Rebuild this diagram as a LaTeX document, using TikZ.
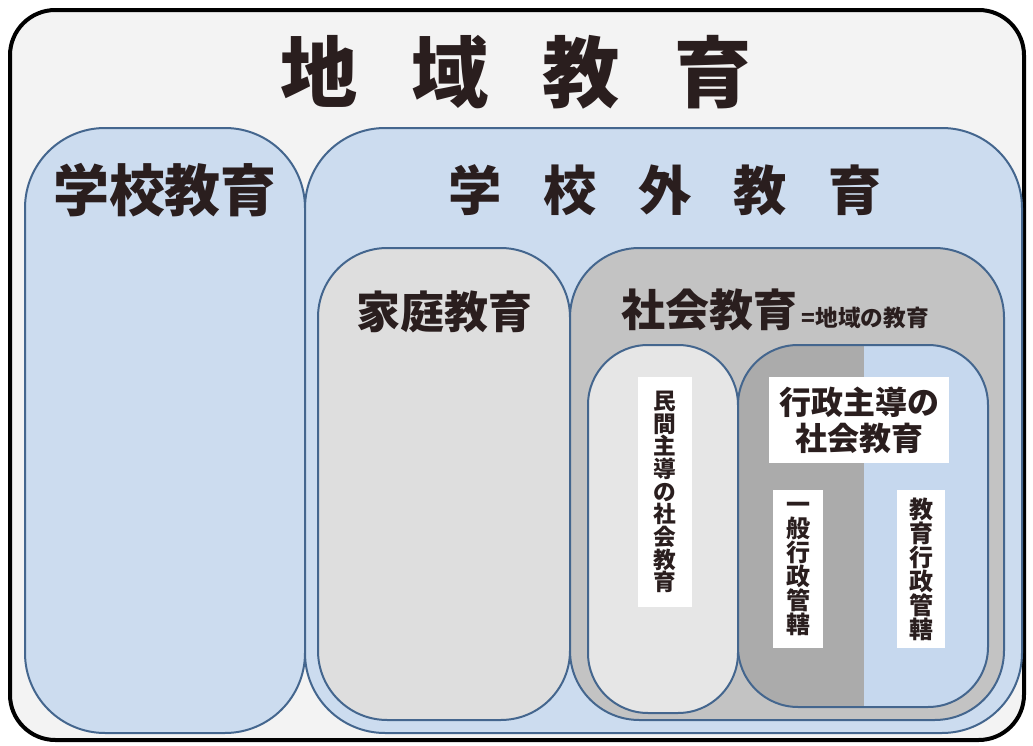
\documentclass[tikz,border=0pt]{standalone}
\usepackage{fontspec}
\newfontfamily\cjk{Noto Sans CJK JP}
\definecolor{framefill}{HTML}{F3F3F3}
\definecolor{schoolblue}{HTML}{CCDCEF}
\definecolor{homegrey}{HTML}{DEDEDE}
\definecolor{socgrey}{HTML}{C3C3C3}
\definecolor{privfill}{HTML}{E6E6E6}
\definecolor{govdark}{HTML}{ABABAB}
\definecolor{govblue}{HTML}{C6D8EE}
\definecolor{boxline}{HTML}{44668E}
\definecolor{ink}{HTML}{2A1E1E}
\tikzset{
  region/.style={draw=boxline, line width=1.5pt},
  lbl/.style={font=\cjk\bfseries, text=ink, inner sep=0pt},
  whitebox/.style={fill=white, inner sep=0pt},
}
\begin{document}
\begin{tikzpicture}[x=0.75pt,y=-0.75pt]
\useasboundingbox (0,0) rectangle (1033,746);
% outer frame
\draw[fill=framefill, draw=black, line width=3pt, rounded corners=34pt] (10,10) rectangle (1024,740);
\node[lbl, font=\cjk\bfseries\fontsize{58}{60}\selectfont] (title) at (516,72) {地\hspace{0.7em}域\hspace{0.7em}教\hspace{0.7em}育};
% school education
\draw[region, fill=schoolblue, rounded corners=60pt] (25,128) rectangle (305,733);
\node[lbl, font=\cjk\bfseries\fontsize{42}{44}\selectfont] (school) at (165,190) {学校教育};
% out-of-school education
\draw[region, fill=schoolblue, rounded corners=60pt] (305,128) rectangle (1022,733);
\node[lbl, font=\cjk\bfseries\fontsize{40}{42}\selectfont] (outschool) at (665,190) {学\hspace{0.78em}校\hspace{0.78em}外\hspace{0.78em}教\hspace{0.78em}育};
% home education
\draw[region, fill=homegrey, rounded corners=52pt] (318,248) rectangle (570,720);
\node[lbl, font=\cjk\bfseries\fontsize{33}{35}\selectfont] (home) at (444,312) {家庭教育};
% social education
\draw[region, fill=socgrey, rounded corners=52pt] (570,248) rectangle (1004,720);
\node[lbl, font=\cjk\bfseries\fontsize{33}{35}\selectfont, anchor=base west] (social) at (621,326) {社会教育};
\node[lbl, font=\cjk\bfseries\fontsize{17}{19}\selectfont, anchor=base west] (socialeq) at (social.base east) {\,=地域の教育};
% private-led
\draw[region, fill=privfill, rounded corners=45pt] (588,345) rectangle (738,713);
\node[whitebox, minimum width=40pt, minimum height=173pt] (privbox) at (665,492) {};
\node[lbl, font=\cjk\bfseries\fontsize{17}{17}\selectfont, align=center] (priv) at (privbox) {民\\間\\主\\導\\の\\社\\会\\教\\育};
% government-led
\begin{scope}
  \clip[rounded corners=45pt] (738,345) rectangle (988,707);
  \fill[govdark] (738,345) rectangle (864,707);
  \fill[govblue] (864,345) rectangle (988,707);
\end{scope}
\draw[region, rounded corners=45pt] (738,345) rectangle (988,707);
\node[whitebox, minimum width=135pt, minimum height=64pt] (govbox) at (859,420) {};
\node[lbl, font=\cjk\bfseries\fontsize{24}{27}\selectfont, align=center] (gov) at (govbox) {行政主導の\\社会教育};
\node[whitebox, minimum width=38pt, minimum height=118pt] (genbox) at (798,569) {};
\node[lbl, font=\cjk\bfseries\fontsize{18}{18}\selectfont, align=center] (gen) at (genbox) {一\\般\\行\\政\\管\\轄};
\node[whitebox, minimum width=36pt, minimum height=118pt] (edubox) at (921,569) {};
\node[lbl, font=\cjk\bfseries\fontsize{18}{18}\selectfont, align=center] (edu) at (edubox) {教\\育\\行\\政\\管\\轄};
\end{tikzpicture}
\end{document}
